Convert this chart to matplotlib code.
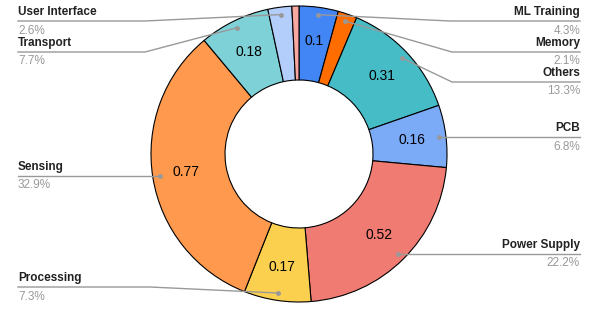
import numpy as np
import matplotlib

matplotlib.use("Agg")
import matplotlib.pyplot as plt

plt.rcParams["font.family"] = ["Liberation Sans", "DejaVu Sans"]

# clockwise from 12 o'clock
categories = ["ML Training", "Memory", "Others", "PCB", "Power Supply",
              "Processing", "Sensing", "Transport", "User Interface", ""]
values = [0.1, 0.049, 0.311, 0.159, 0.52, 0.171, 0.77, 0.18, 0.061, 0.018]
colors = ["#4285f4", "#ff6d01", "#46bdc6", "#7baaf7", "#f07b72",
          "#fcd04f", "#ff994d", "#7ed1d7", "#b3cefb", "#f7a8a1"]

# label layout (pixels, y from top): line y, elbow x, side
label_layout = {
    "ML Training": (21, 450, "right"),
    "Memory": (52, 452, "right"),
    "Others": (82, 452, "right"),
    "PCB": (137, None, "right"),
    "Power Supply": (254, None, "right"),
    "Processing": (287, 150, "left"),
    "Sensing": (176, None, "left"),
    "Transport": (52, 145, "left"),
    "User Interface": (21, 145, "left"),
}

W, H = 598, 321
fig = plt.figure(figsize=(W / 100, H / 100), dpi=100)
ax = fig.add_axes([0, 0, 1, 1])

cx, cy, R = 299, H - 154, 148
wedges, _ = ax.pie(
    values,
    colors=colors,
    startangle=90,
    counterclock=False,
    center=(cx, cy),
    radius=R,
    wedgeprops=dict(width=R / 2, edgecolor="black", linewidth=0.8),
)
ax.set_xlim(0, W)
ax.set_ylim(0, H)
ax.set_aspect("equal")
ax.axis("off")

total = sum(values)
gray = "#999999"
x_left, x_right = 18, 580

for w, name, val in zip(wedges, categories, values):
    mid = np.deg2rad((w.theta1 + w.theta2) / 2)
    pct = val / total * 100
    if pct > 3:
        r_txt = R * 0.77
        ax.text(cx + r_txt * np.cos(mid), cy + r_txt * np.sin(mid),
                f"{round(val, 2):g}", ha="center", va="center", fontsize=10)
    if not name:
        continue
    line_y, elbow_x, side = label_layout[name]
    ly = H - line_y
    dx, dy = cx + R * 0.95 * np.cos(mid), cy + R * 0.95 * np.sin(mid)
    ax.plot(dx, dy, "o", color=gray, markersize=2.5)
    ex = elbow_x if elbow_x is not None else dx
    if side == "right":
        ax.plot([dx, ex, x_right], [dy, ly, ly], color=gray, lw=1)
        tx, ha = x_right, "right"
    else:
        ax.plot([dx, ex, x_left], [dy, ly, ly], color=gray, lw=1)
        tx, ha = x_left, "left"
    ax.text(tx, ly + 3, name, ha=ha, va="bottom", fontsize=8.5,
            fontweight="bold", color="#222222")
    ax.text(tx, ly - 3.5, f"{pct:.1f}%", ha=ha, va="top", fontsize=8.5,
            color=gray)

fig.savefig("out.png", dpi=100)
